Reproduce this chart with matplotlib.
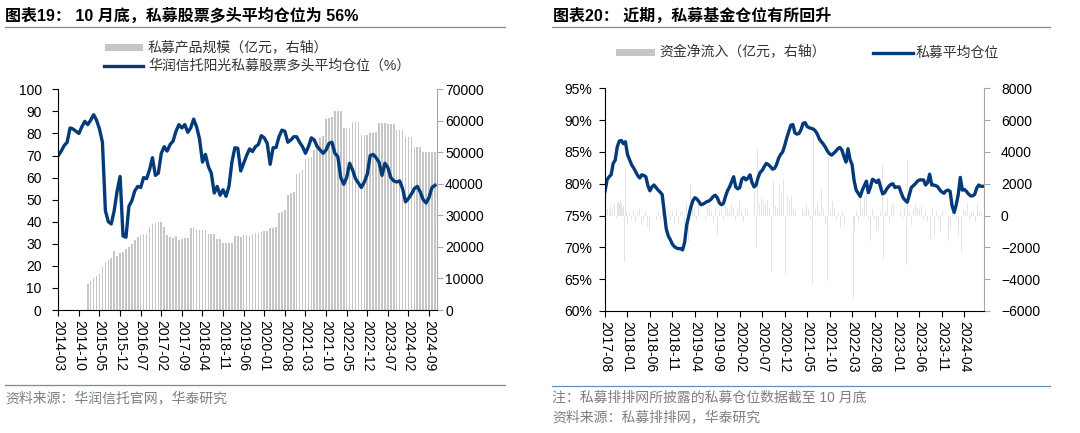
import matplotlib
matplotlib.use('Agg')
import matplotlib.pyplot as plt
from matplotlib.lines import Line2D
from matplotlib.patches import Rectangle
import numpy as np

plt.rcParams['font.family'] = ['Liberation Sans', 'Noto Sans CJK SC']

# ---------------- data: chart 19 (monthly, 2014-03 .. 2024-11) ----------------
labels19 = ['2014-03', '2014-10', '2015-05', '2015-12', '2016-07', '2017-02', '2017-09',
            '2018-04', '2018-11', '2019-06', '2020-01', '2020-08', '2021-03', '2021-10',
            '2022-05', '2022-12', '2023-07', '2024-02', '2024-09']
pos19 = [70, 72, 74.5, 76, 82.5, 82, 81, 80, 83, 85.5,
         84, 86, 88.5, 86, 82, 76, 45, 40, 39, 45,
         54, 60.5, 33.5, 33, 47, 49.5, 54, 56, 55.5, 60,
         59.5, 63.5, 69, 61, 62, 71, 74, 72, 75, 76.5,
         81, 84, 82.5, 84, 80.5, 82.5, 86.5, 83, 77.5, 67,
         70.5, 65, 62, 53, 56, 52, 54.5, 51.5, 56, 67,
         73.5, 73.3, 63, 66.5, 70, 73, 71.8, 74, 75, 79,
         78, 75.5, 66, 73.5, 73.6, 78.5, 81.5, 81, 76, 77,
         78.5, 78.5, 76, 74, 71, 74, 78, 77, 74, 72.5,
         71, 72.5, 75.5, 76, 71, 69.5, 60, 57, 60, 66.5,
         63.5, 59.5, 57.5, 55.5, 58, 61.5, 70, 70.5, 69, 67,
         61, 66.5, 64.5, 60, 58.5, 58, 58.5, 55, 49, 50.5,
         52.5, 55, 56, 53.5, 50, 48.5, 51, 55.5, 56.5]
aum19 = [0] * 10 + [
    8400, 9200, 10000, 10800, 11500, 13500, 15300, 16000, 16500, 18800,
    17200, 18000, 18500, 19200, 20000, 21000, 22300, 23300, 23800, 24100,
    24100, 26400, 27300, 27600, 27800, 28000, 26400, 23800, 23300, 22800,
    23600, 22200, 22600, 22700, 22700, 26100, 25900, 25700, 25500, 25400,
    25300, 24100, 24000, 24000, 22600, 22500, 21300, 21100, 21100, 21100,
    23500, 23400, 23300, 23800, 23700, 23600, 24200, 24300, 24300, 24600,
    24900, 25200, 25900, 26100, 26300, 30700, 31200, 31600, 36500, 37200,
    37500, 43100, 43500, 44400, 47800, 48300, 48600, 50700, 51100, 54400,
    55200, 60500, 60800, 61100, 63200, 63200, 63200, 57600, 57600, 57600,
    59700, 59700, 59700, 55500, 55500, 55500, 56000, 56200, 56300, 59400,
    59400, 59400, 58900, 58900, 58900, 57100, 57100, 57100, 55000, 55000,
    55000, 51800, 51800, 51800, 50200, 50200, 50200, 50200, 50200]

# ---------------- data: chart 20 (weekly index from 2017-08) ----------------
labels20 = ['2017-08', '2018-01', '2018-06', '2018-11', '2019-04', '2019-09', '2020-02',
            '2020-07', '2020-12', '2021-05', '2021-10', '2022-03', '2022-08', '2023-01',
            '2023-06', '2023-11', '2024-04']
pos20 = [78.8, 80.6, 81.1, 81.4, 83.2, 83.7, 85.8, 86.7, 86.8, 86.3,
         86.6, 84.6, 83.8, 83.0, 82.5, 81.9, 81.3, 80.9, 81.4, 81.3,
         81.1, 79.7, 78.9, 79.5, 79.8, 79.4, 79.0, 78.7, 78.3, 75.6,
         72.9, 71.8, 71.2, 70.5, 70.1, 69.9, 69.8, 69.8, 69.6, 70.8,
         73.5, 74.9, 76.3, 77.3, 77.8, 77.6, 77.2, 76.7, 76.8, 77.0,
         77.2, 77.3, 77.6, 78.0, 78.2, 77.8, 77.0, 76.7, 76.9, 78.0,
         78.9, 79.5, 80.3, 81.1, 79.5, 79.2, 79.4, 80.7, 81.0, 80.6,
         80.9, 81.4, 80.2, 79.5, 79.8, 81.0, 81.8, 82.1, 82.7, 83.2,
         83.0, 82.7, 82.3, 82.4, 83.0, 84.0, 84.6, 85.0, 86.0, 87.2,
         88.2, 89.2, 89.3, 88.0, 87.8, 87.9, 88.5, 89.5, 89.6, 89.0,
         88.8, 88.7, 88.6, 88.3, 87.8, 87.0, 86.6, 86.2, 85.7, 85.1,
         84.7, 84.5, 84.8, 85.1, 85.5, 85.7, 85.3, 84.3, 83.4, 85.5,
         83.8, 83.0, 80.5, 79.0, 78.5, 78.0, 79.0, 79.7, 80.4, 78.6,
         79.5, 80.7, 80.5, 80.2, 80.6, 79.4, 78.4, 78.6, 79.2, 79.6,
         79.9, 80.0, 79.4, 79.5, 79.5, 78.6, 77.8, 77.4, 77.1, 78.2,
         79.4, 79.7, 80.0, 80.4, 80.6, 80.6, 80.6, 79.8, 80.2, 81.5,
         79.8, 79.8, 79.7, 79.5, 79.0, 78.7, 78.5, 78.9, 79.0, 78.8,
         76.5, 75.5, 76.7, 78.3, 81.0, 79.0, 79.1, 78.8, 78.4, 78.1,
         78.1, 78.3, 79.3, 79.8, 79.6, 79.6]
pos20_week = list(range(0, 2 * len(pos20), 2))
flow_week = [2, 4, 5, 7, 9, 11, 12, 13, 14, 15, 16, 17, 18, 19, 20, 21, 22, 24, 26, 28,
             30, 32, 34, 36, 38, 40, 42, 44, 46, 48, 50, 52, 54, 56, 58, 60, 62, 64, 66, 68,
             70, 72, 74, 76, 78, 80, 82, 84, 86, 88, 90, 92, 94, 96, 98, 100, 102, 104, 106, 108,
             110, 112, 114, 116, 118, 120, 122, 124, 126, 128, 130, 132, 134, 136, 138, 140, 142, 144, 146, 148,
             149, 151, 153, 155, 157, 159, 161, 163, 165, 167, 169, 171, 173, 175, 177, 179, 181, 183, 185, 187,
             190, 191, 193, 195, 197, 199, 201, 203, 204, 206, 208, 210, 212, 214, 216, 218, 219, 221, 223, 225,
             227, 229, 231, 233, 235, 238, 240, 243, 244, 246, 248, 250, 252, 254, 256, 258, 260, 262, 264, 266,
             268, 270, 272, 273, 275, 277, 279, 281, 283, 285, 287, 289, 291, 293, 295, 296, 298, 300, 302, 304,
             306, 308, 310, 312, 314, 316, 319, 321, 323, 325, 327, 329, 331, 333, 336, 338, 340, 342, 344, 346,
             349, 351, 353, 355, 357, 359, 361, 363, 365, 367, 369]
flow_val = [400, 300, 600, 500, 700, -200, 800, 900, 700, 1000, 800, 400, 600, -2900, 2900, 300, -500, 200, -300, 300,
            -400, 200, 400, -600, -300, 300, -700, -900, 500, 200, -300, 200, -200, 300, -400, -800, 300, -300, 200, -500,
            400, -600, 200, 300, -700, 800, -1600, 2000, 600, 400, -300, 800, 300, 500, -300, 600, 400, 300, -400, 500,
            -1200, 300, 400, -300, 600, 500, 300, 700, 500, -300, 400, 900, 300, -400, 500, 300, 600, 400, 1500, -2000,
            4200, 800, 1100, 900, 700, 1000, 500, -3500, 2200, 600, 400, 1900, 1400, 2300, -3700, 1300, 1000, 1200, 400, 300,
            -2800, 3400, 500, 300, 700, 400, -300, -4300, 5100, 400, 700, 300, 1700, 400, -500, -4100, 3700, 300, 900, 500,
            -300, 200, -800, 300, -600, -2300, 4400, -5200, -1000, 300, -400, 1500, 500, 1200, 1900, -300, -1600, 400, -300, -1000,
            -800, 300, 3200, -2700, 300, 1100, -400, 600, 800, -300, -400, 300, -200, 500, -3100, 3400, 300, -600, 400, 700,
            500, 400, 600, -300, 300, -400, -1500, 400, -1200, 300, -200, -1000, 300, 500, -1600, -800, 900, 300, -300, -1300,
            -2300, 400, 300, 800, -300, 200, 300, -400, 800, 300, 200]

# ---------------- layout helpers ----------------
W, H = 1080, 433
NAVY = '#033a7a'
SEP = '#6a8cb5'
GRAYTXT = '#7f7f7f'

fig = plt.figure(figsize=(W / 100, H / 100), dpi=100)


def rect(x0, y0, x1, y1):
    return [x0 / W, 1 - y1 / H, (x1 - x0) / W, (y1 - y0) / H]


def fx(x):
    return x / W


def fy(y):
    return 1 - y / H


def hline(x0, x1, y, color=SEP, lw=0.9):
    fig.add_artist(Line2D([fx(x0), fx(x1)], [fy(y), fy(y)], transform=fig.transFigure,
                          color=color, lw=lw))


def style_axes(ax, ax2):
    ax.set_zorder(ax2.get_zorder() + 1)
    ax.patch.set_visible(False)
    for a in (ax, ax2):
        a.spines['top'].set_visible(False)
    ax.spines['right'].set_visible(False)
    ax2.spines['left'].set_visible(False)
    ax2.spines['bottom'].set_visible(False)
    ax2.spines['right'].set_color('#a6a6a6')
    ax.spines['left'].set_color('#000000')
    ax.spines['bottom'].set_color('#000000')
    ax.spines['left'].set_linewidth(0.8)
    ax.spines['bottom'].set_linewidth(0.8)
    ax2.spines['right'].set_linewidth(0.8)


# ================= chart 19 =================
ax = fig.add_axes(rect(58.3, 89.3, 436.7, 310))
ax2 = ax.twinx()
ax2.bar(np.arange(len(aum19)), aum19, width=0.55, color='#c6c6c6', linewidth=0)
ax.plot(np.arange(len(pos19)), pos19, color=NAVY, lw=2.4, solid_joinstyle='round')
ax.set_xlim(0, 128.6)
ax.set_ylim(0, 100)
ax2.set_ylim(0, 70000)
ax.set_yticks(range(0, 101, 10))
ax2.set_yticks(range(0, 70001, 10000))
ax.set_xticks(np.arange(0, 7 * len(labels19), 7))
ax.set_xticklabels(labels19, rotation=270)
style_axes(ax, ax2)
ax.tick_params(axis='y', direction='out', length=4, width=0.8, pad=8, labelsize=10)
ax.tick_params(axis='x', direction='out', length=4, width=0.8, pad=3, labelsize=10)
ax2.tick_params(axis='y', direction='out', length=4, width=0.8, color='#a6a6a6', pad=2, labelsize=10)

# ================= chart 20 =================
bx = fig.add_axes(rect(605, 88.3, 984.3, 311))
bx2 = bx.twinx()
bx2.bar(flow_week, flow_val, width=0.9, color='#e4e4e4', linewidth=0)
bx.plot(pos20_week, pos20, color=NAVY, lw=2.4, solid_joinstyle='round')
bx.set_xlim(0, 371.5)
bx.set_ylim(60, 95)
bx2.set_ylim(-6000, 8000)
bx.set_yticks(range(60, 96, 5))
bx.set_yticklabels([f'{v}%' for v in range(60, 96, 5)])
bx2.set_yticks(range(-6000, 8001, 2000))
bx.set_xticks(np.arange(0, 22 * len(labels20), 22))
bx.set_xticklabels(labels20, rotation=270)
style_axes(bx, bx2)
bx.tick_params(axis='y', direction='out', length=4, width=0.8, pad=5, labelsize=10)
bx.tick_params(axis='x', direction='out', length=4, width=0.8, pad=3, labelsize=10)
bx2.tick_params(axis='y', direction='out', length=4, width=0.8, color='#a6a6a6', pad=8, labelsize=10)

# ================= titles, legends, notes =================
fig.text(fx(5), fy(16), '图表19： 10 月底，私募股票多头平均仓位为 56%', fontsize=11.5,
         fontweight='bold', ha='left', va='center')
fig.text(fx(553), fy(16), '图表20： 近期，私募基金仓位有所回升', fontsize=11.5,
         fontweight='bold', ha='left', va='center')
hline(5, 505, 26.5)
hline(552, 1050, 26.5)

# legend chart 19
fig.add_artist(Rectangle((fx(105), fy(50.5)), 38 / W, 7 / H, transform=fig.transFigure,
                         color='#c6c6c6', lw=0))
fig.text(fx(148), fy(47), '私募产品规模（亿元，右轴）', fontsize=10, color='#333333',
         ha='left', va='center')
fig.add_artist(Line2D([fx(104), fx(143)], [fy(66), fy(66)], transform=fig.transFigure,
                      color=NAVY, lw=2.4))
fig.text(fx(148), fy(66), '华润信托阳光私募股票多头平均仓位（%）', fontsize=10, color='#333333',
         ha='left', va='center')

# legend chart 20
fig.add_artist(Rectangle((fx(616), fy(55.5)), 39 / W, 6 / H, transform=fig.transFigure,
                         color='#c6c6c6', lw=0))
fig.text(fx(659), fy(52.5), '资金净流入（亿元，右轴）', fontsize=10, color='#333333',
         ha='left', va='center')
fig.add_artist(Line2D([fx(873), fx(913)], [fy(52.5), fy(52.5)], transform=fig.transFigure,
                      color=NAVY, lw=2.4))
fig.text(fx(916), fy(52.5), '私募平均仓位', fontsize=10, color='#333333',
         ha='left', va='center')

# bottom notes
hline(5, 505, 385)
hline(552, 1050, 386)
fig.text(fx(5), fy(398), '资料来源：华润信托官网，华泰研究', fontsize=10, color=GRAYTXT,
         ha='left', va='center')
fig.text(fx(552), fy(398), '注：私募排排网所披露的私募仓位数据截至 10 月底', fontsize=10,
         color=GRAYTXT, ha='left', va='center')
fig.text(fx(552), fy(417), '资料来源：私募排排网，华泰研究', fontsize=10, color=GRAYTXT,
         ha='left', va='center')

fig.savefig('out.png', dpi=100)
